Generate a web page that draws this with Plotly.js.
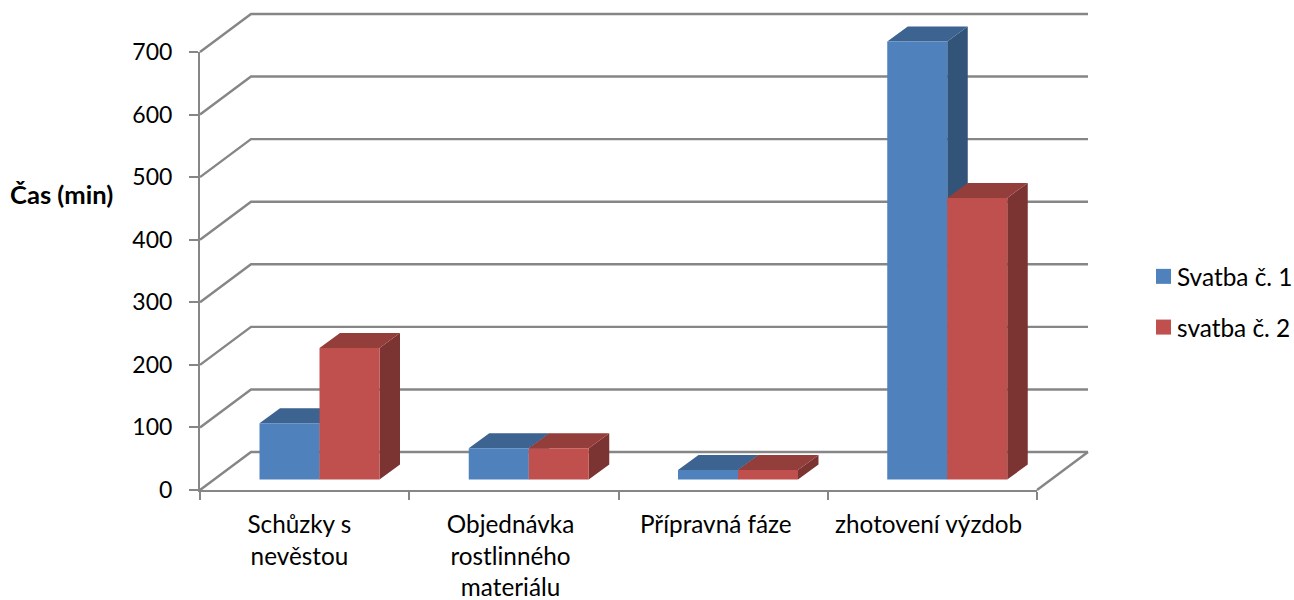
<!DOCTYPE html>
<html>
<head>
<meta charset="utf-8">
<script src="https://cdn.plot.ly/plotly-3.0.1.min.js"></script>
<style>html,body{margin:0;padding:0;background:#fff}</style>
</head>
<body>
<div id="chart" style="width:1294px;height:600px"></div>
<script>
var categories = ["Schůzky s<br>nevěstou", "Objednávka<br>rostlinného<br>materiálu", "Přípravná fáze", "zhotovení výzdob"];
var seriesNames = ["Svatba č. 1", "svatba č. 2"];
var svatba1 = [90, 50, 15, 700];
var svatba2 = [210, 50, 15, 450];
var yTicks = [0, 100, 200, 300, 400, 500, 600, 700];
var labelCentres = [0.475, 1.484, 2.465, 3.482];

var W = 1294, H = 600;
var frontL = 200, frontR = 1037, frontB = 490, frontT = 52;   // front plane of the chart, px
var pxX = (frontR - frontL) / 4, pxY = (frontB - frontT) / 700;
var FONT = "Lato, Carlito, Calibri, sans-serif", TXT = "#000000", GRID = "#868686";
var wallDX = 51 / pxX, wallDY = 38 / pxY;     // depth of the walls, axis units
var barStart = 59.5 / pxX, barW = 60 / pxX, barBase = 10.5 / pxY;
var depthDX = 20.5 / pxX, depthDY = 15 / pxY; // depth of a bar

var catIdx = categories.map(function (_, i) { return i; });

// wall grid lines: left-wall diagonal, then back-wall horizontal
var gx = [], gy = [];
yTicks.forEach(function (v) {
  gx.push(0, wallDX, 4 + wallDX, null);
  gy.push(v, v + wallDY, v + wallDY, null);
});
gx.push(4, 4 + wallDX); gy.push(0, wallDY);

function polys(values, startOff, kind) {
  var xs = [], ys = [];
  values.forEach(function (v, i) {
    var xl = i + startOff, xr = xl + barW, top = v + barBase;
    if (kind === "side") {
      xs.push(xr, xr, xr + depthDX, xr + depthDX, xr, null);
      ys.push(barBase, top, top + depthDY, barBase + depthDY, barBase, null);
    } else {
      xs.push(xl, xr, xr + depthDX, xl + depthDX, xl, null);
      ys.push(top, top, top + depthDY, top + depthDY, top, null);
    }
  });
  return { x: xs, y: ys };
}
function face(values, off, kind, color) {
  var p = polys(values, off, kind);
  return { type: "scatter", mode: "lines", x: p.x, y: p.y, fill: "toself", fillcolor: color,
           line: { width: 0, color: color }, showlegend: false, hoverinfo: "skip",
           xaxis: "x2", yaxis: "y2" };
}
function front(values, off, name, color, group) {
  return { type: "bar", name: name, x: catIdx, y: values, base: barBase, width: barW, offset: off,
           marker: { color: color }, xaxis: "x3", yaxis: "y3",
           legendgroup: group, hoverinfo: "y" };
}

var traces = [
  { type: "scatter", mode: "lines", x: [0], y: [0], showlegend: false, hoverinfo: "skip" },
  { type: "scatter", mode: "lines", x: gx, y: gy, line: { color: GRID, width: 2.4 },
    showlegend: false, hoverinfo: "skip", xaxis: "x2", yaxis: "y2" },
  face(svatba1, barStart, "side", "#335479"),
  face(svatba1, barStart, "top", "#3D6391"),
  face(svatba2, barStart + barW, "side", "#7C3432"),
  face(svatba2, barStart + barW, "top", "#943E3B"),
  front(svatba1, barStart, seriesNames[0], "#4F81BD", "a"),
  front(svatba2, barStart + barW, seriesNames[1], "#C0504D", "b")
];

var wideX = [-frontL / pxX, (W - frontL) / pxX], wideY = [-(H - frontB) / pxY, frontB / pxY];
var legendShift = 12;   // the legend is laid out this far left so it pushes no margin

var layout = {
  width: W, height: H,
  margin: { l: 0, r: 0, t: 0, b: 0 },
  paper_bgcolor: "#ffffff", plot_bgcolor: "rgba(0,0,0,0)",
  font: { family: FONT, size: 24, color: TXT },
  barmode: "overlay", showlegend: true,
  legend: { x: (1137 - legendShift) / W, xanchor: "left", y: 298 / H, yanchor: "middle",
            traceorder: "grouped", tracegroupgap: 16,
            font: { family: FONT, size: 24.4, color: TXT }, bgcolor: "rgba(0,0,0,0)" },
  xaxis: {
    domain: [frontL / W, frontR / W], range: [0, 4], anchor: "y",
    showgrid: false, zeroline: false, showline: true, linecolor: GRID, linewidth: 2,
    tickmode: "array", tickvals: labelCentres, ticktext: categories, ticks: "", ticklen: 0,
    ticklabelstandoff: 12,
    minor: { tickmode: "array", tickvals: [0, 1, 2, 3, 4], ticks: "outside", ticklen: 8, tickwidth: 2, tickcolor: GRID, showgrid: false },
    tickfont: { family: FONT, size: 24.3, color: TXT }
  },
  yaxis: {
    domain: [(H - frontB) / H, (H - frontT) / H], range: [0, 700], anchor: "x",
    showgrid: false, zeroline: false, showline: true, linecolor: GRID, linewidth: 2,
    tickmode: "array", tickvals: yTicks, ticks: "outside", ticklen: 9, tickwidth: 2, tickcolor: GRID,
    ticklabelstandoff: 12,
    tickfont: { family: FONT, size: 23, color: TXT }
  },
  xaxis2: { domain: [0, 1], range: wideX, anchor: "y2", visible: false },
  yaxis2: { domain: [0, 1], range: wideY, anchor: "x2", visible: false },
  xaxis3: { overlaying: "x2", range: wideX, anchor: "y3", visible: false },
  yaxis3: { overlaying: "y2", range: wideY, anchor: "x3", visible: false },
  annotations: [{
    text: "<b>Čas (min)</b>", xref: "paper", yref: "paper", x: 8 / W, xanchor: "left",
    y: (H - 194) / H, yanchor: "middle", showarrow: false, font: { family: FONT, size: 25.6, color: TXT }
  }]
};

Plotly.newPlot("chart", traces, layout, { displayModeBar: false }).then(function () {
  // legend keys: slightly larger and closer to their text
  document.querySelectorAll(".legend .legendpoints path").forEach(function (p) {
    p.setAttribute("transform", (p.getAttribute("transform") || "") + " translate(6.5,0) scale(1.25)");
  });
  var lg = document.querySelector(".legend");
  lg.setAttribute("transform", (lg.getAttribute("transform") || "") + " translate(" + legendShift + ",0)");
});
</script>
</body>
</html>
